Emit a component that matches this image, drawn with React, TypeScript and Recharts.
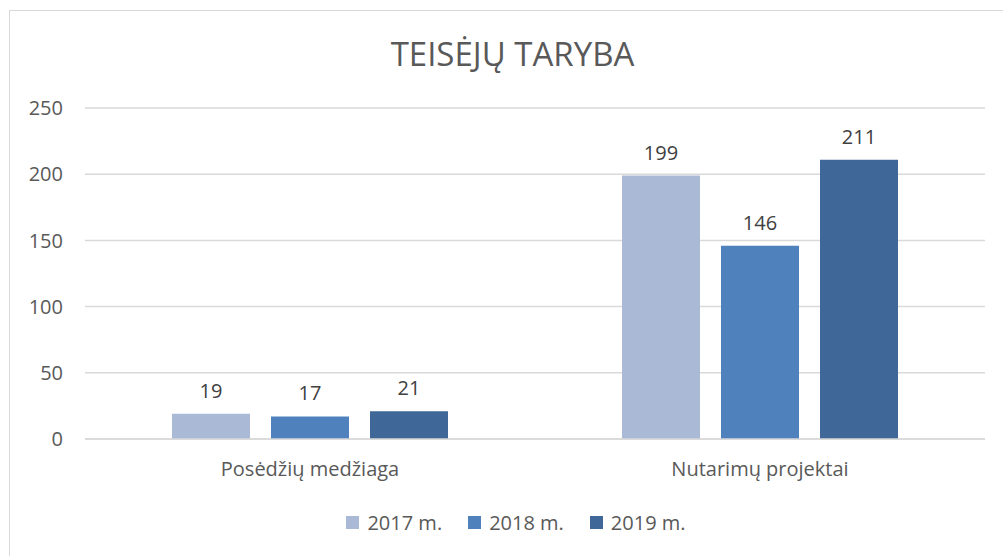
import { Bar, BarChart, CartesianGrid, LabelList, Legend, XAxis, YAxis } from "recharts";

const categories = ["Posėdžių medžiaga", "Nutarimų projektai"];
const values2017 = [19, 199];
const values2018 = [17, 146];
const values2019 = [21, 211];
const yTicks = [0, 50, 100, 150, 200, 250];

const series = [
  { key: "y2017", name: "2017 m.", color: "#A9B9D6", values: values2017 },
  { key: "y2018", name: "2018 m.", color: "#4F81BD", values: values2018 },
  { key: "y2019", name: "2019 m.", color: "#3F6898", values: values2019 }
];

const data = categories.map((name, i) => {
  const row: Record<string, string | number> = { name };
  series.forEach((s) => {
    row[s.key] = s.values[i];
  });
  return row;
});

const FONT = "'Open Sans', 'Noto Sans', sans-serif";

function LegendContent() {
  return (
    <div style={{ display: "flex", justifyContent: "center", gap: 26, marginLeft: 47, fontFamily: FONT, fontSize: 20, color: "#595959" }}>
      {series.map((s) => (
        <div key={s.key} style={{ display: "flex", alignItems: "center", gap: 8 }}>
          <span style={{ width: 13, height: 13, background: s.color, display: "inline-block" }} />
          <span>{s.name}</span>
        </div>
      ))}
    </div>
  );
}

export default function App() {
  return (
    <div style={{ position: "fixed", left: 0, top: 0, width: 1003, height: 556, overflow: "hidden", background: "#fff" }}>
      <div style={{ position: "absolute", left: 9, top: 10, width: 1010, height: 560, border: "1.5px solid #D9D9D9", boxSizing: "border-box" }} />
      <div style={{ position: "absolute", left: 0, top: 31, width: 1025, textAlign: "center", fontFamily: FONT, fontSize: 33, color: "#595959" }}>
        TEISĖJŲ TARYBA
      </div>
      <div style={{ position: "absolute", left: 0, top: 0 }}>
        <BarChart width={1003} height={556} data={data} margin={{ top: 108, right: 18, bottom: 20, left: 0 }} barGap={21} barSize={78}>
          <CartesianGrid stroke="#D9D9D9" strokeWidth={1.5} vertical={false} />
          <XAxis
            dataKey="name"
            tickLine={false}
            axisLine={{ stroke: "#D9D9D9", strokeWidth: 1.5 }}
            tick={{ fontSize: 20, fill: "#595959", fontFamily: FONT }}
            tickMargin={17}
            height={70}
          />
          <YAxis
            domain={[0, 250]}
            ticks={yTicks}
            width={85}
            tickLine={false}
            axisLine={false}
            tick={{ fontSize: 20, fill: "#595959", fontFamily: FONT }}
            tickMargin={16}
          />
          <Legend verticalAlign="bottom" content={<LegendContent />} />
          {series.map((s) => (
            <Bar key={s.key} dataKey={s.key} name={s.name} fill={s.color} isAnimationActive={false}>
              <LabelList dataKey={s.key} position="top" offset={16} style={{ fontSize: 20, fill: "#404040", fontFamily: FONT }} />
            </Bar>
          ))}
        </BarChart>
      </div>
    </div>
  );
}
